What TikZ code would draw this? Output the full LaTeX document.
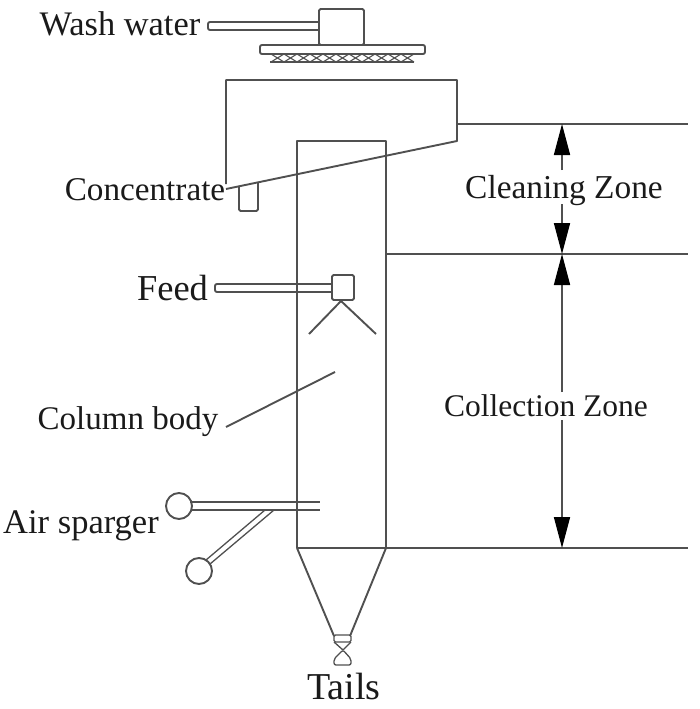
\documentclass[tikz,border=0pt]{standalone}
\usepackage{fontspec}
\setmainfont{Liberation Serif}
\usetikzlibrary{arrows.meta}
\definecolor{ln}{HTML}{505050}
\definecolor{txt}{HTML}{1A1A1A}
\tikzset{
  part/.style={draw=ln,line width=1.9pt,line join=round},
  thin part/.style={draw=ln,line width=1.3pt,line join=round},
  label/.style={inner sep=0pt,text=txt,anchor=center},
  dim/.style={draw=ln,line width=1.6pt,-{Triangle[length=31pt,width=16pt,fill=black,color=black]}},
  pt/.style={coordinate}
}
\newcommand{\lbl}[2]{\fontsize{#1}{#1}\selectfont #2}
\begin{document}
\begin{tikzpicture}[x=1pt,y=-1pt]
\useasboundingbox (0,0) rectangle (700,709);
% wash water
\draw[part,rounded corners=1.5pt] (319,9) rectangle (364,45);
\draw[part,rounded corners=2pt] (319,22) -- (208,22) -- (208,30) -- (319,30);
\draw[part,rounded corners=2pt] (260,45) rectangle (425,54);
\foreach \i in {0,...,10}{
  \draw[thin part,line width=1.1pt] ({271+13*\i},54) -- ({284+13*\i},62);
  \draw[thin part,line width=1.1pt] ({284+13*\i},54) -- ({271+13*\i},62);
}
\draw[thin part,line width=1.1pt] (270,62) -- (414,62);
% launder
\draw[part] (226,184) -- (226,80) -- (457,80) -- (457,141) -- (226,189);
\draw[part,rounded corners=1.5pt] (239,186) -- (239,211) -- (258,211) -- (258,183);
% column
\draw[part] (297,548) -- (297,141) -- (386,141) -- (386,548);
\coordinate (zt) at (457,124);
\coordinate (zm) at (386,254);
\coordinate (zb) at (297,548);
\draw[part] (zt) -- (688,124);
\draw[part] (zm) -- (688,254);
\draw[part] (zb) -- (688,548);
% cone
\draw[part] (297,548) -- (334,636);
\draw[part] (386,548) -- (350,636);
\draw[thin part,rounded corners=1.5pt] (334,635) -- (351,635) -- (351,642) -- (334,642) -- cycle;
\draw[thin part] (334,642) -- (343,650) -- (351,642);
\draw[thin part,rounded corners=2pt] (343,650) -- (351,659) -- (351,665) -- (334,665) -- (334,659) -- cycle;
% feed
\draw[part,rounded corners=1.5pt] (332,275) rectangle (354,300);
\draw[part,rounded corners=2pt] (332,284) -- (215,284) -- (215,292) -- (332,292);
\draw[part] (309,334) -- (341,301) -- (376,334);
% air sparger
\node[circle,part,draw=ln,minimum size=26pt,inner sep=0pt] (c1) at (179,506) {};
\node[circle,part,draw=ln,minimum size=26pt,inner sep=0pt] (c2) at (199,571) {};
\coordinate (p1a) at (320,502);
\coordinate (p1b) at (320,510);
\draw[part] (190,502) -- (p1a);
\draw[part] (191,510) -- (p1b);
\draw[thin part] (206,560) -- (265,510);
\draw[thin part] (210,564) -- (274,510);
% labels
\node[label] (wash) at (120,24) {\lbl{34.4}{Wash water}};
\node[label] (conc) at (145,190) {\lbl{33.2}{Concentrate}};
\node[label] (feed) at (172.5,288) {\lbl{36.5}{Feed}};
\node[label] (body) at (128,422) {\lbl{33}{Column body}};
\node[label] (air) at (81,526) {\lbl{34.5}{Air sparger}};
\node[label] (tails) at (344,686) {\lbl{38}{Tails}};
\node[label] (clean) at (564,191) {\lbl{33.4}{Cleaning Zone}};
\node[label] (coll) at (546,406) {\lbl{31.5}{Collection Zone}};
% leader
\coordinate (lead) at (335,372);
\draw[part] (226,427) -- (lead);
% dimension arrows
\coordinate (a1) at (562,170);
\coordinate (a2) at (562,124);
\coordinate (a3) at (562,204);
\coordinate (a4) at (562,254);
\coordinate (a5) at (562,420);
\coordinate (a6) at (562,548);
\coordinate (a7) at (562,392);
\draw[dim] (a1) -- (a2);
\draw[dim] (a3) -- (a4);
\draw[dim] (a7) -- (a4);
\draw[dim] (a5) -- (a6);
\end{tikzpicture}
\end{document}
